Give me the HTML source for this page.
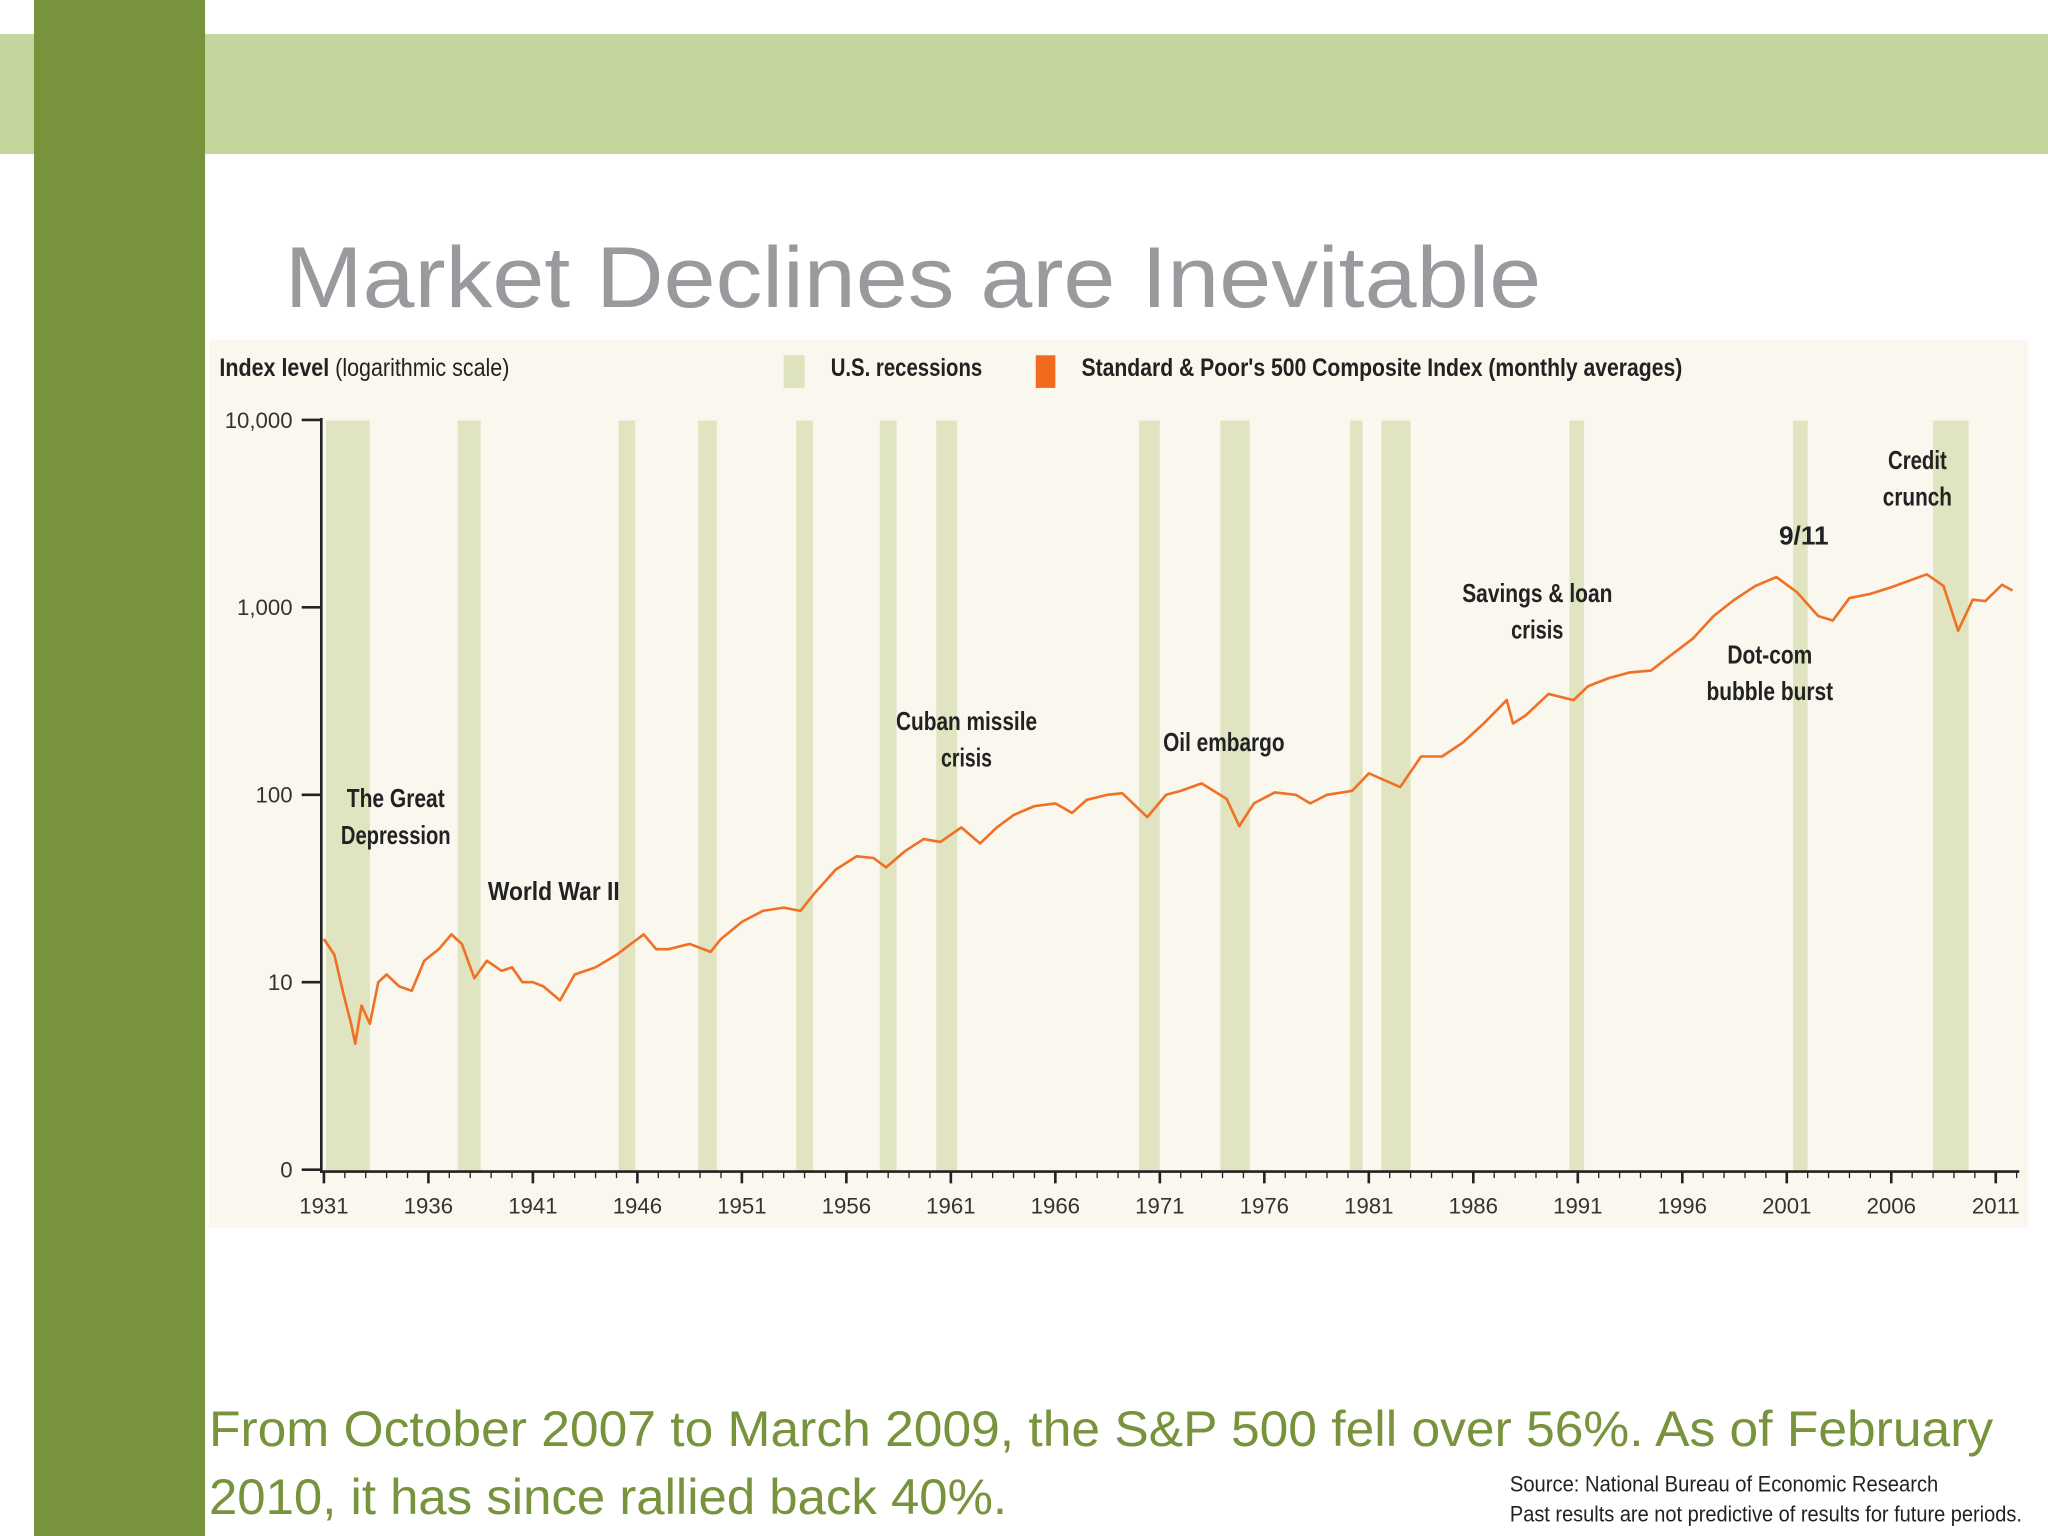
<!DOCTYPE html>
<html><head><meta charset="utf-8"><style>
html,body{margin:0;padding:0;background:#fff;}
svg{display:block;}
</style></head><body>
<svg id="slide" width="2048" height="1536" viewBox="0 0 1568 1176" xmlns="http://www.w3.org/2000/svg">
<rect x="0" y="26" width="1568" height="92" fill="#c4d69d"/>
<rect x="26" y="0" width="131" height="1176" fill="#77933c"/>
<text x="218" y="235" font-family="Liberation Sans, sans-serif" font-size="66" fill="#9a9a9e" textLength="962" lengthAdjust="spacingAndGlyphs">Market Declines are Inevitable</text>
<rect x="160" y="260" width="1393" height="680" fill="#f9f7ee"/>
<g id="bands"></g>
<g id="axes"></g>
<g id="series"></g>
<g font-family="Liberation Sans, sans-serif" font-size="19" fill="#222">
<text x="168" y="288" textLength="222" lengthAdjust="spacingAndGlyphs"><tspan font-weight="bold">Index level</tspan> (logarithmic scale)</text>
<rect x="600" y="272" width="16" height="25" fill="#dfe3bf"/>
<text x="636" y="288" font-weight="bold" textLength="116" lengthAdjust="spacingAndGlyphs">U.S. recessions</text>
<rect x="793" y="272" width="15" height="25" fill="#f26b1d"/>
<text x="828" y="288" font-weight="bold" textLength="460" lengthAdjust="spacingAndGlyphs">Standard &amp; Poor's 500 Composite Index (monthly averages)</text>
</g>
<g font-family="Liberation Sans, sans-serif" font-size="20" font-weight="bold" fill="#222" text-anchor="middle">
<text x="303" y="618" textLength="75" lengthAdjust="spacingAndGlyphs">The Great</text>
<text x="303" y="646" textLength="84" lengthAdjust="spacingAndGlyphs">Depression</text>
<text x="424" y="689" textLength="101" lengthAdjust="spacingAndGlyphs">World War II</text>
<text x="740" y="559" textLength="108" lengthAdjust="spacingAndGlyphs">Cuban missile</text>
<text x="740" y="587" textLength="39" lengthAdjust="spacingAndGlyphs">crisis</text>
<text x="937" y="575" textLength="93" lengthAdjust="spacingAndGlyphs">Oil embargo</text>
<text x="1177" y="461" textLength="115" lengthAdjust="spacingAndGlyphs">Savings &amp; loan</text>
<text x="1177" y="489" textLength="40" lengthAdjust="spacingAndGlyphs">crisis</text>
<text x="1381" y="417" textLength="38" lengthAdjust="spacingAndGlyphs">9/11</text>
<text x="1468" y="359" textLength="45" lengthAdjust="spacingAndGlyphs">Credit</text>
<text x="1468" y="387" textLength="53" lengthAdjust="spacingAndGlyphs">crunch</text>
<text x="1355" y="508" textLength="65" lengthAdjust="spacingAndGlyphs">Dot-com</text>
<text x="1355" y="536" textLength="97" lengthAdjust="spacingAndGlyphs">bubble burst</text>
</g>
<g font-family="Liberation Sans, sans-serif" font-size="38" fill="#77933c">
<text x="160" y="1107" textLength="1366" lengthAdjust="spacingAndGlyphs">From October 2007 to March 2009, the S&amp;P 500 fell over 56%. As of February</text>
<text x="160" y="1159" textLength="611" lengthAdjust="spacingAndGlyphs">2010, it has since rallied back 40%.</text>
</g>
<rect x="1145" y="1120" width="423" height="56" fill="#fff"/>
<g font-family="Liberation Sans, sans-serif" font-size="17" fill="#222">
<text x="1156" y="1142" textLength="328" lengthAdjust="spacingAndGlyphs">Source: National Bureau of Economic Research</text>
<text x="1156" y="1165" textLength="392" lengthAdjust="spacingAndGlyphs">Past results are not predictive of results for future periods.</text>
</g>
</svg>
<script>
const recessionStarts=[1931.1,1937.4,1945.1,1948.9,1953.6,1957.6,1960.3,1970.0,1973.9,1980.1,1981.6,1990.6,2001.3,2008.0];
const recessionEnds=[1933.2,1938.5,1945.9,1949.8,1954.4,1958.4,1961.3,1971.0,1975.3,1980.7,1983.0,1991.3,2002.0,2009.7];
const years=[1931.0,1931.5,1931.9,1932.3,1932.5,1932.8,1933.2,1933.6,1934,1934.6,1935.2,1935.8,1936.5,1937.1,1937.6,1938.2,1938.8,1939.5,1940,1940.5,1941,1941.5,1942.3,1943,1944,1945,1946.3,1946.9,1947.5,1948.5,1949.5,1950,1951,1952,1953,1953.8,1954.5,1955.5,1956.5,1957.3,1957.9,1958.8,1959.7,1960.5,1961.5,1962.4,1963.2,1964,1965,1966,1966.8,1967.5,1968.5,1969.2,1970.4,1971.3,1972,1973,1974.2,1974.8,1975.5,1976.5,1977.5,1978.2,1979,1980.2,1981,1982.5,1983.5,1984.5,1985.5,1986.5,1987.6,1987.9,1988.5,1989.6,1990.8,1991.5,1992.5,1993.5,1994.5,1995.5,1996.5,1997.5,1998.5,1999.5,2000.5,2001.5,2002.5,2003.2,2004,2005,2006,2007.7,2008.5,2009.2,2009.9,2010.5,2011.3,2011.8];
const values=[17,14,9,6,4.7,7.5,6,10,11,9.5,9,13,15,18,16,10.5,13,11.5,12,10,10,9.5,8,11,12,14,18,15,15,16,14.5,17,21,24,25,24,30,40,47,46,41,50,58,56,67,55,67,78,87,90,80,94,100,102,76,100,105,115,95,68,90,103,100,90,100,105,130,110,160,160,190,240,320,240,265,345,320,380,420,450,460,560,680,900,1100,1300,1450,1200,900,850,1120,1180,1280,1500,1300,750,1100,1080,1320,1230];
const yTickValues=[1,10,100,1000,10000];
const yTickLabels=["0","10","100","1,000","10,000"];
const xTickYears=[1931,1936,1941,1946,1951,1956,1961,1966,1971,1976,1981,1986,1991,1996,2001,2006,2011];
const NS="http://www.w3.org/2000/svg";
function xs(yr){return 248+(yr-1931)*16;}
function ys(v){return 752-143.5*Math.log10(v/10);}
function mk(tag,attrs,parent){const e=document.createElementNS(NS,tag);for(const k in attrs)e.setAttribute(k,attrs[k]);parent.appendChild(e);return e;}
const bands=document.getElementById('bands');
for(let i=0;i<recessionStarts.length;i++){
 const r=mk('rect',{x:xs(recessionStarts[i]),y:322,width:xs(recessionEnds[i])-xs(recessionStarts[i]),height:575,fill:'#e1e4c0'},bands);
 
 
}
const axes=document.getElementById('axes');
const ya=mk('line',{x1:246,y1:320,x2:246,y2:898,stroke:'#222','stroke-width':2},axes);


const xa=mk('line',{x1:245,y1:897,x2:1546,y2:897,stroke:'#222','stroke-width':2},axes);


yTickValues.forEach((v,i)=>{
 const y=ys(v);
 const t=mk('line',{x1:231,y1:y,x2:246,y2:y,stroke:'#222','stroke-width':2},axes);
 
 
 const l=mk('text',{x:224,y:y+6,'text-anchor':'end','font-family':'Liberation Sans, sans-serif','font-size':17,fill:'#333'},axes);
 l.textContent=yTickLabels[i];
 
 
});
for(let yr=1931;yr<=2012;yr++){
 const major=xTickYears.indexOf(yr)>=0;
 const t=mk('line',{x1:xs(yr),y1:897,x2:xs(yr),y2:major?906:902,stroke:'#222','stroke-width':major?2:1},axes);
 
 
}
xTickYears.forEach(yr=>{
 const l=mk('text',{x:xs(yr),y:929,'text-anchor':'middle','font-family':'Liberation Sans, sans-serif','font-size':17,fill:'#333'},axes);
 l.textContent=String(yr);
 
 
});
const series=document.getElementById('series');
const d=years.map((yr,i)=>(i?'L':'M')+xs(yr).toFixed(1)+','+ys(values[i]).toFixed(1)).join(' ');
const p=mk('path',{d:d,fill:'none',stroke:'#f07024','stroke-width':2,'stroke-linejoin':'round'},series);


</script>
</body></html>
